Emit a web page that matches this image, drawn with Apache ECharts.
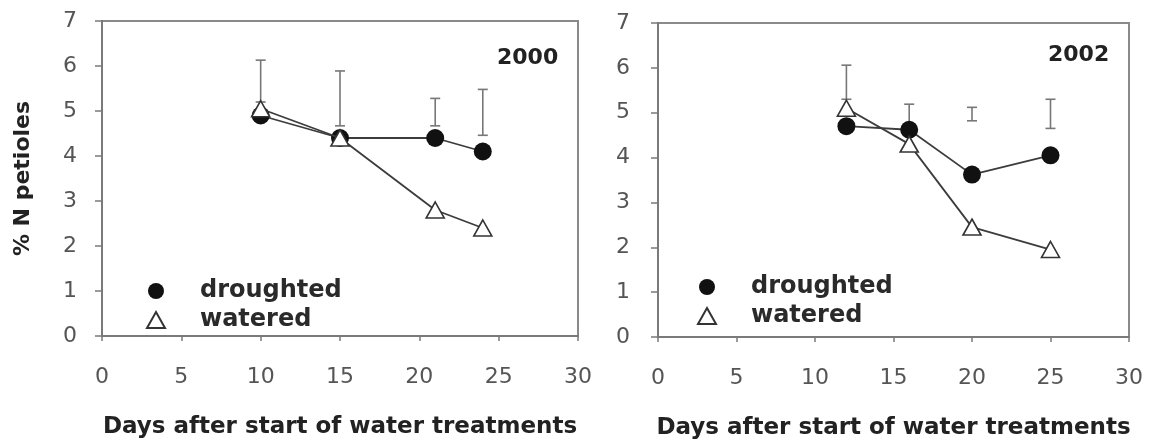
<!DOCTYPE html>
<html>
<head>
<meta charset="utf-8">
<script src="https://cdn.jsdelivr.net/npm/echarts@6/dist/echarts.min.js"></script>
<style>
html,body{margin:0;padding:0;background:#fff;}
#chart{width:1151px;height:444px;}
</style>
</head>
<body>
<div id="chart"></div>
<script>
// ---- data ----
const xTicks = [0, 5, 10, 15, 20, 25, 30];
const yTicks = [0, 1, 2, 3, 4, 5, 6, 7];
const seriesNames = ['droughted', 'watered'];
const yearLabels = ['2000', '2002'];
const xTitle = 'Days after start of water treatments';
const yTitle = '% N petioles';

const days2000 = [10, 15, 21, 24];
const drought2000 = [4.9, 4.4, 4.4, 4.1];
const water2000 = [5.05, 4.4, 2.8, 2.4];
const errLow2000 = [5.2, 4.67, 4.67, 4.46];
const errHigh2000 = [6.13, 5.89, 5.28, 5.48];

const days2002 = [12, 16, 20, 25];
const drought2002 = [4.7, 4.62, 3.62, 4.05];
const water2002 = [5.1, 4.3, 2.45, 1.95];
const errLow2002 = [5.3, 4.65, 4.82, 4.65];
const errHigh2002 = [6.06, 5.19, 5.12, 5.3];

// ---- helpers ----
const pairs = (xs, ys) => xs.map((x, i) => [x, ys[i]]);
const triples = (xs, lo, hi) => xs.map((x, i) => [x, lo[i], hi[i]]);

const FONT = 'DejaVu Sans';
const lineColor = '#3c3c3c';
const axisColor = '#7a7a7a';

function errRender(params, api) {
  const x = api.value(0), lo = api.value(1), hi = api.value(2);
  const a = api.coord([x, lo]), b = api.coord([x, hi]);
  const w = 5;
  const st = {stroke: '#777', lineWidth: 1.6};
  return {
    type: 'group',
    children: [
      {type: 'line', shape: {x1: a[0], y1: a[1], x2: b[0], y2: b[1]}, style: st},
      {type: 'line', shape: {x1: a[0] - w, y1: a[1], x2: a[0] + w, y2: a[1]}, style: st},
      {type: 'line', shape: {x1: b[0] - w, y1: b[1], x2: b[0] + w, y2: b[1]}, style: st}
    ]
  };
}

function xAxisDef(gi) {
  return {
    gridIndex: gi, type: 'value', min: 0, max: 30, interval: 5,
    name: xTitle, nameLocation: 'middle', nameGap: 80,
    nameTextStyle: {fontFamily: FONT, fontWeight: 'bold', fontSize: 23, color: '#222'},
    axisLine: {show: true, onZero: false, lineStyle: {color: axisColor, width: 2}},
    axisTick: {show: true, inside: false, length: 5, lineStyle: {color: axisColor, width: 1.5}},
    axisLabel: {margin: 30, fontFamily: FONT, fontSize: 22, color: '#555',
      formatter: v => xTicks.includes(v) ? String(v) : ''},
    splitLine: {show: false}
  };
}
function yAxisDef(gi, withName, margin) {
  return {
    gridIndex: gi, type: 'value', min: 0, max: 7, interval: 1,
    name: withName ? yTitle : '', nameLocation: 'middle', nameGap: 68,
    nameTextStyle: {fontFamily: FONT, fontWeight: 'bold', fontSize: 22, color: '#222'},
    axisLine: {show: true, onZero: false, lineStyle: {color: axisColor, width: 2}},
    axisTick: {show: true, inside: false, length: 7, lineStyle: {color: axisColor, width: 1.5}},
    axisLabel: {margin: margin, fontFamily: FONT, fontSize: 22, color: '#555',
      formatter: v => yTicks.includes(v) ? String(v) : ''},
    splitLine: {show: false}
  };
}

function panelSeries(gi, days, dr, wa, lo, hi) {
  return [
    {
      type: 'custom', name: 'err' + gi, xAxisIndex: gi, yAxisIndex: gi,
      renderItem: errRender, encode: {x: 0, y: [1, 2]},
      data: triples(days, lo, hi), z: 1, silent: true
    },
    {
      type: 'line', name: seriesNames[0], xAxisIndex: gi, yAxisIndex: gi,
      data: pairs(days, dr), symbol: 'circle', symbolSize: 18,
      itemStyle: {color: '#111'},
      lineStyle: {color: lineColor, width: 1.8}, z: 3
    },
    {
      type: 'line', name: seriesNames[1], xAxisIndex: gi, yAxisIndex: gi,
      data: pairs(days, wa), symbol: 'triangle', symbolSize: [18, 16],
      itemStyle: {color: '#fff', borderColor: '#333', borderWidth: 1.6},
      lineStyle: {color: lineColor, width: 1.8}, z: 4
    }
  ];
}

function legendDef(left, top) {
  return {
    left: left, top: top, orient: 'vertical', itemWidth: 18, itemHeight: 16, itemGap: 5,
    selectedMode: false,
    data: [{name: seriesNames[0], icon: 'circle'}, {name: seriesNames[1], icon: 'triangle'}],
    textStyle: {fontFamily: FONT, fontWeight: 'bold', fontSize: 24, color: '#2a2a2a', padding: [0, 0, 0, 30]}
  };
}

const chart = echarts.init(document.getElementById('chart'), null, {renderer: 'canvas'});
chart.setOption({
  animation: false,
  backgroundColor: '#fff',
  title: [
    {text: yearLabels[0], left: 497, top: 47, textStyle: {fontFamily: FONT, fontWeight: 'bold', fontSize: 22, color: '#222'}, padding: 0},
    {text: yearLabels[1], left: 1048, top: 44, textStyle: {fontFamily: FONT, fontWeight: 'bold', fontSize: 22, color: '#222'}, padding: 0}
  ],
  legend: [legendDef(141, 274), legendDef(692, 270)],
  grid: [
    {left: 102, right: 573, top: 21, bottom: 108, show: true, borderColor: '#8a8a8a', borderWidth: 2, backgroundColor: 'transparent', outerBoundsMode: 'none', containLabel: false},
    {left: 658, right: 22, top: 23, bottom: 107, show: true, borderColor: '#8a8a8a', borderWidth: 2, backgroundColor: 'transparent', outerBoundsMode: 'none', containLabel: false}
  ],
  xAxis: [xAxisDef(0), xAxisDef(1)],
  yAxis: [yAxisDef(0, true, 25), yAxisDef(1, false, 28)],
  series: [
    ...panelSeries(0, days2000, drought2000, water2000, errLow2000, errHigh2000),
    ...panelSeries(1, days2002, drought2002, water2002, errLow2002, errHigh2002)
  ]
});
</script>
</body>
</html>
